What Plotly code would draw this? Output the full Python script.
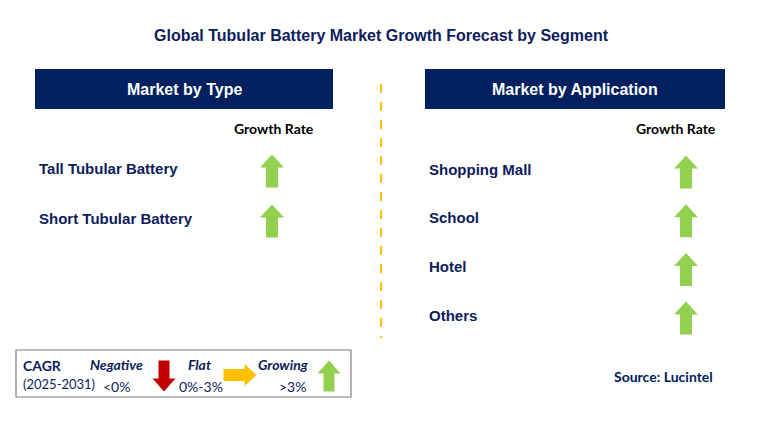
import plotly.graph_objects as go

# segment data
types = ["Tall Tubular Battery", "Short Tubular Battery"]
type_growth = ["up", "up"]
applications = ["Shopping Mall", "School", "Hotel", "Others"]
app_growth = ["up", "up", "up", "up"]

# legend data
legend_names = ["Negative", "Flat", "Growing"]
legend_ranges = ["<0%", "0%-3%", ">3%"]
legend_dirs = ["down", "right", "up"]

title = "Global Tubular Battery Market Growth Forecast by Segment"
panel_titles = ["Market by Type", "Market by Application"]

NAVY = "#002060"
TEXT = "#0c1c5c"
COLORS = {"up": "#92D050", "down": "#C00000", "right": "#FFC000"}
FONT = "Liberation Sans, Arial, sans-serif"
CAL = "Lato, Open Sans, sans-serif"

W, H = 758, 432
OFF = 8  # page body margin, shift the coordinate frame so marks land where they should


def arrow(cx, cy, direction, length=33, head_w=24, shaft_w=12, head_len=13):
    # polygon for an arrow pointing up, then rotated
    L, hw, sw = length / 2, head_w / 2, shaft_w / 2
    pts = [(-sw, L), (-sw, -L + head_len), (-hw, -L + head_len), (0, -L),
           (hw, -L + head_len), (sw, -L + head_len), (sw, L), (-sw, L)]
    if direction == "down":
        pts = [(x, -y) for x, y in pts]
    elif direction == "right":
        pts = [(-y, x) for x, y in pts]
    xs = [cx + x for x, y in pts]
    ys = [cy + y for x, y in pts]
    return go.Scatter(x=xs, y=ys, mode="lines", fill="toself",
                      fillcolor=COLORS[direction], line=dict(width=0),
                      hoverinfo="skip", showlegend=False)


fig = go.Figure()
ann = []
shapes = []

# title
ann.append(dict(x=381, y=35, text="<b>" + title + "</b>", showarrow=False,
                font=dict(family=FONT, size=16, color=TEXT)))

# panels
panels = [
    dict(x0=35, x1=333, labels=types, growth=type_growth, label_x=37, arrow_x=272,
         head_x=274, top=168, step=50),
    dict(x0=425, x1=725, labels=applications, growth=app_growth, label_x=427, arrow_x=686,
         head_x=676, top=169, step=48.7),
]
for p, ptitle in zip(panels, panel_titles):
    shapes.append(dict(type="rect", x0=p["x0"], x1=p["x1"], y0=69, y1=109,
                       fillcolor=NAVY, line=dict(width=0), layer="below"))
    ann.append(dict(x=(p["x0"] + p["x1"]) / 2, y=89, text="<b>" + ptitle + "</b>",
                    showarrow=False, font=dict(family=FONT, size=16, color="white")))
    ann.append(dict(x=p["head_x"], y=128, text="<b>Growth Rate</b>", showarrow=False,
                    font=dict(family=CAL, size=14, color="black")))
    for i, (lab, g) in enumerate(zip(p["labels"], p["growth"])):
        y = p["top"] + i * p["step"]
        ann.append(dict(x=p["label_x"], y=y, text="<b>" + lab + "</b>", showarrow=False,
                        xanchor="left", font=dict(family=FONT, size=15, color=TEXT)))
        fig.add_trace(arrow(p["arrow_x"], y + 3, g))

# divider
shapes.append(dict(type="line", x0=381, x1=381, y0=84, y1=338,
                   line=dict(color="#FFC000", width=2, dash="dash")))

# legend box
shapes.append(dict(type="rect", x0=16, x1=351, y0=350, y1=397,
                   line=dict(color="#7f7f7f", width=1.2), fillcolor="white", layer="below"))
ann.append(dict(x=21, y=365, text="<b>CAGR</b>", showarrow=False, xanchor="left",
                font=dict(family=CAL, size=14, color=TEXT)))
ann.append(dict(x=21, y=384, text="(2025-2031)", showarrow=False, xanchor="left",
                font=dict(family=CAL, size=13, color=TEXT)))
name_x = [116, 199, 283]
range_x = [116, 201, 292]
arrow_x = [164, 240, 329]
for nm, rg, d, nx, rx, ax in zip(legend_names, legend_ranges, legend_dirs, name_x, range_x, arrow_x):
    ann.append(dict(x=nx, y=364, text="<b><i>" + nm + "</i></b>", showarrow=False,
                    font=dict(family=CAL, size=14, color=TEXT)))
    ann.append(dict(x=rx, y=386, text=rg, showarrow=False,
                    font=dict(family=CAL, size=14, color=TEXT)))
    if d == "right":
        fig.add_trace(arrow(ax, 375, d, length=33, head_w=22, shaft_w=12, head_len=12))
    else:
        fig.add_trace(arrow(ax, 376, d, length=31, head_w=23, shaft_w=11, head_len=13))

# source
ann.append(dict(x=663, y=376, text="<b>Source: Lucintel</b>", showarrow=False,
                font=dict(family=CAL, size=14, color=NAVY)))

fig.update_layout(
    width=W, height=H, margin=dict(l=0, r=0, t=0, b=0),
    paper_bgcolor="white", plot_bgcolor="white",
    xaxis=dict(range=[OFF, W + OFF], visible=False, fixedrange=True),
    yaxis=dict(range=[H + OFF, OFF], visible=False, fixedrange=True),
    annotations=ann, shapes=shapes, showlegend=False,
)

fig.write_html("out.html")
